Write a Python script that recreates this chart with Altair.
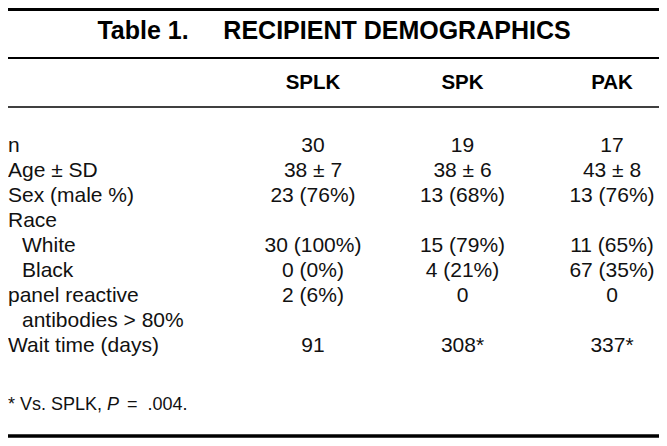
import altair as alt
import pandas as pd

# ---- table content ----
title_text = "Table 1.\u00a0\u00a0\u00a0\u00a0\u00a0RECIPIENT DEMOGRAPHICS"
groups = ["SPLK", "SPK", "PAK"]
labels = ["n", "Age ± SD", "Sex (male %)", "Race", "White", "Black",
          "panel reactive", "antibodies > 80%", "Wait time (days)"]
indent = [0, 0, 0, 0, 1, 1, 0, 1, 0]
splk = ["30", "38 ± 7", "23 (76%)", "", "30 (100%)", "0 (0%)", "2 (6%)", "", "91"]
spk = ["19", "38 ± 6", "13 (68%)", "", "15 (79%)", "4 (21%)", "0", "", "308*"]
pak = ["17", "43 ± 8", "13 (76%)", "", "11 (65%)", "67 (35%)", "0", "", "337*"]
foot_a = "* Vs. SPLK,\u00a0"
foot_p = "P"
foot_b = "=\u00a0\u00a0.004."

W, H = 651, 430
FONT = "Liberation Sans"

lab_df = pd.DataFrame({"label": labels, "indent": indent})
rows = []
for g, col in zip(groups, [splk, spk, pak]):
    for lab, v in zip(labels, col):
        if v:
            rows.append({"label": lab, "group": g, "value": v})
val_df = pd.DataFrame(rows)
hdr_df = pd.DataFrame({"group": groups})

y_enc = alt.Y("label:N", sort=labels,
              scale=alt.Scale(type="point", range=[138, 338], padding=0),
              axis=None)
x_enc = alt.X("group:N", sort=groups,
              scale=alt.Scale(type="point", range=[305, 604], padding=0),
              axis=None)

values = alt.Chart(val_df).mark_text(
    font=FONT, fontSize=21, align="center", baseline="middle", color="#111"
).encode(x=x_enc, y=y_enc, text="value:N")

row_labels = alt.Chart(lab_df).transform_filter("datum.indent == 0").mark_text(
    font=FONT, fontSize=21, align="left", baseline="middle", color="#111"
).encode(x=alt.value(0), y=y_enc, text="label:N")

row_labels_ind = alt.Chart(lab_df).transform_filter("datum.indent == 1").mark_text(
    font=FONT, fontSize=21, align="left", baseline="middle", color="#111"
).encode(x=alt.value(14), y=y_enc, text="label:N")

header = alt.Chart(hdr_df).mark_text(
    font=FONT, fontSize=20.5, fontWeight="bold", align="center", baseline="middle",
    color="#000"
).encode(x=x_enc, y=alt.value(75), text="group:N")

title = alt.Chart(pd.DataFrame({"t": [title_text]})).mark_text(
    font=FONT, fontSize=25, fontWeight="bold", align="center", baseline="middle",
    color="#000"
).encode(x=alt.value(326), y=alt.value(23), text="t:N")

foot_df = pd.DataFrame({"a": [foot_a], "p": [foot_p], "b": [foot_b]})
foot1 = alt.Chart(foot_df).mark_text(
    font=FONT, fontSize=18, align="left", baseline="middle", color="#111"
).encode(x=alt.value(0), y=alt.value(397), text="a:N")
foot2 = alt.Chart(foot_df).mark_text(
    font=FONT, fontSize=18, fontStyle="italic", align="left", baseline="middle",
    color="#111"
).encode(x=alt.value(99), y=alt.value(397), text="p:N")
foot3 = alt.Chart(foot_df).mark_text(
    font=FONT, fontSize=18, align="left", baseline="middle", color="#111"
).encode(x=alt.value(119), y=alt.value(397), text="b:N")

def hline(y, w):
    return alt.Chart(pd.DataFrame({"k": [0]})).mark_rule(
        color="#000", strokeWidth=w
    ).encode(x=alt.value(0), x2=alt.value(W), y=alt.value(y))

chart = alt.layer(
    hline(1.5, 3), hline(50, 2), hline(99, 1.5), hline(428, 3.5),
    title, header, row_labels, row_labels_ind, values, foot1, foot2, foot3
).properties(
    width=W, height=H, padding=0, autosize="none"
).configure_view(stroke=None)

chart.save("out.html", embed_options={"renderer": "svg", "actions": False})
